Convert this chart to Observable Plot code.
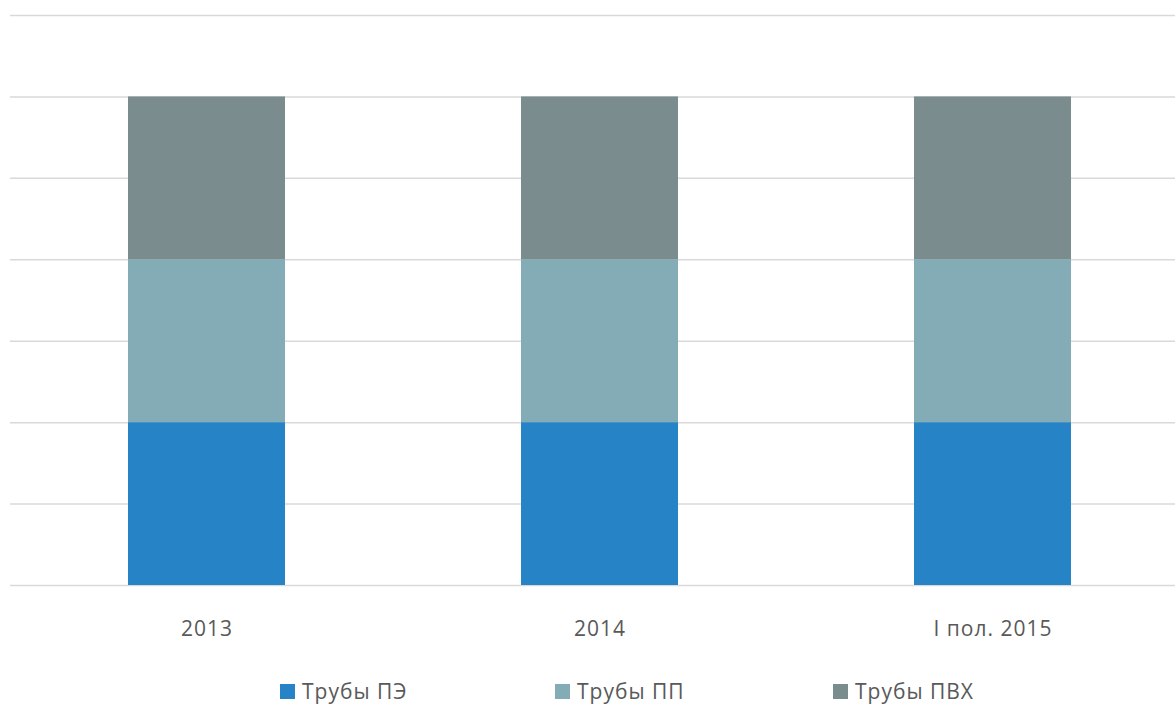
<!DOCTYPE html>
<html>
<head>
<meta charset="utf-8">
<script src="https://cdn.jsdelivr.net/npm/d3@7"></script>
<script src="https://cdn.jsdelivr.net/npm/@observablehq/plot@0.6"></script>
<style>
  html, body { margin: 0; padding: 0; background: #fff; }
  #wrap { position: relative; width: 1175px; height: 704px; font-family: "Open Sans", sans-serif; }
  #legend { position: absolute; left: 0; top: 676px; width: 1175px; height: 30px; }
  .item { position: absolute; top: 0; display: flex; align-items: center; height: 30px; font-size: 21px; letter-spacing: 1px; color: #595959; }
  .sw { width: 15px; height: 15px; margin-right: 7px; }
</style>
</head>
<body>
<div id="wrap"><div id="chart"></div><div id="legend"></div></div>
<script>
const categories = ["2013", "2014", "I пол. 2015"];
const seriesNames = ["Трубы ПЭ", "Трубы ПП", "Трубы ПВХ"];
const seriesColors = ["#2683c6", "#84acb6", "#7a8c8e"];
const valuesPE = [1, 1, 1];
const valuesPP = [1, 1, 1];
const valuesPVC = [1, 1, 1];
const gridTicks = [0, 0.5, 1, 1.5, 2, 2.5, 3, 3.5];
const legendLeft = [280, 555, 833];

const seriesValues = [valuesPE, valuesPP, valuesPVC];
const data = [];
seriesNames.forEach((s, i) => categories.forEach((c, j) => data.push({cat: c, series: s, value: seriesValues[i][j]})));

const chart = Plot.plot({
  width: 1175,
  height: 660,
  marginTop: 15,
  marginBottom: 75,
  marginLeft: 10,
  marginRight: 0,
  style: {fontFamily: "Open Sans, sans-serif", fontSize: "21px", letterSpacing: "1px", color: "#595959", background: "#fff"},
  x: {domain: categories, paddingInner: 0.6005, paddingOuter: 0.282, align: 0.5315, label: null},
  y: {domain: [0, 3.5], axis: null},
  color: {domain: seriesNames, range: seriesColors},
  marks: [
    Plot.ruleY(gridTicks, {stroke: "#d9d9d9", strokeWidth: 1.5}),
    Plot.barY(data, {x: "cat", y: "value", fill: "series", order: seriesNames}),
    Plot.axisX({tickSize: 0, tickPadding: 36, fontSize: 21, fill: "#595959", label: null})
  ]
});
document.getElementById("chart").appendChild(chart);

const legend = document.getElementById("legend");
seriesNames.forEach((s, i) => {
  const it = document.createElement("div");
  it.className = "item";
  it.style.left = legendLeft[i] + "px";
  const sw = document.createElement("div");
  sw.className = "sw";
  sw.style.background = seriesColors[i];
  const t = document.createElement("span");
  t.textContent = s;
  it.appendChild(sw); it.appendChild(t);
  legend.appendChild(it);
});
</script>
</body>
</html>
